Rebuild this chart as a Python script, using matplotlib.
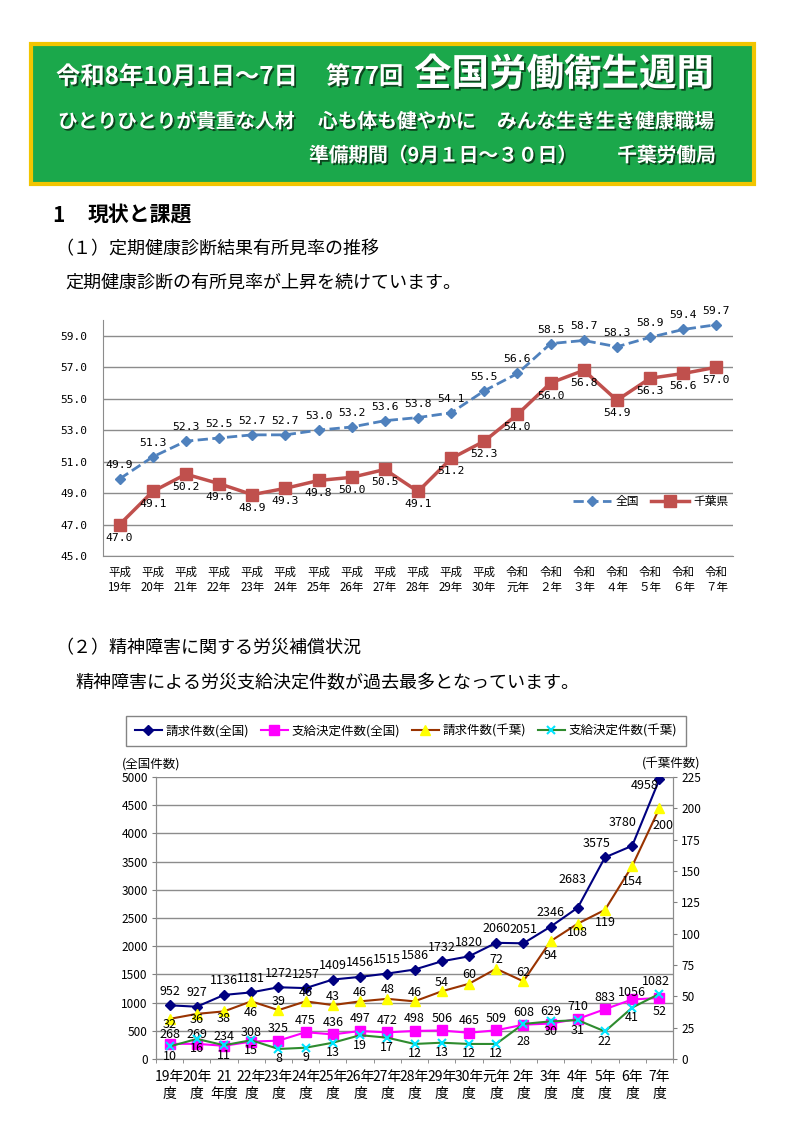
import numpy as np
import matplotlib
matplotlib.use('Agg')
import matplotlib.pyplot as plt
import matplotlib.patheffects as pe
from matplotlib.patches import Rectangle

plt.rcParams['font.family'] = ['Noto Sans CJK JP', 'DejaVu Sans']

W, H = 793, 1122

# 定期健康診断 有所見率（％）
years1 = ['平成\n19年', '平成\n20年', '平成\n21年', '平成\n22年', '平成\n23年',
          '平成\n24年', '平成\n25年', '平成\n26年', '平成\n27年', '平成\n28年',
          '平成\n29年', '平成\n30年', '令和\n元年', '令和\n２年', '令和\n３年',
          '令和\n４年', '令和\n５年', '令和\n６年', '令和\n７年']
zenkoku_rate = [49.9, 51.3, 52.3, 52.5, 52.7, 52.7, 53.0, 53.2, 53.6, 53.8,
                54.1, 55.5, 56.6, 58.5, 58.7, 58.3, 58.9, 59.4, 59.7]
chiba_rate = [47.0, 49.1, 50.2, 49.6, 48.9, 49.3, 49.8, 50.0, 50.5, 49.1,
              51.2, 52.3, 54.0, 56.0, 56.8, 54.9, 56.3, 56.6, 57.0]

# 精神障害の労災補償状況（件数）
years2 = ['19年\n度', '20年\n度', '21\n年度', '22年\n度', '23年\n度', '24年\n度',
          '25年\n度', '26年\n度', '27年\n度', '28年\n度', '29年\n度', '30年\n度',
          '元年\n度', '2年\n度', '3年\n度', '4年\n度', '5年\n度', '6年\n度', '7年\n度']
seikyu_zenkoku = [952, 927, 1136, 1181, 1272, 1257, 1409, 1456, 1515, 1586,
                  1732, 1820, 2060, 2051, 2346, 2683, 3575, 3780, 4958]
shikyu_zenkoku = [268, 269, 234, 308, 325, 475, 436, 497, 472, 498,
                  506, 465, 509, 608, 629, 710, 883, 1056, 1082]
seikyu_chiba = [32, 36, 38, 46, 39, 46, 43, 46, 48, 46,
                54, 60, 72, 62, 94, 108, 119, 154, 200]
shikyu_chiba = [10, 16, 11, 15, 8, 9, 13, 19, 17, 12,
                13, 12, 12, 28, 30, 31, 22, 41, 52]


def px_box(left, top, right, bottom):
    """ピクセル座標 -> figure座標"""
    return [left / W, 1 - bottom / H, (right - left) / W, (bottom - top) / H]


def put_labels(ax, xs, ys, texts, offsets, **kw):
    for x, y, t, (dx, dy) in zip(xs, ys, texts, offsets):
        ax.annotate(t, (x, y), xytext=(dx, dy), textcoords='offset pixels',
                    ha='center', va='center', annotation_clip=False, **kw)


fig = plt.figure(figsize=(W / 100, H / 100), dpi=100)
bg = fig.add_axes([0, 0, 1, 1])
bg.set_xlim(0, W)
bg.set_ylim(H, 0)
bg.axis('off')

# ---- ヘッダー ----
bg.add_patch(Rectangle((31, 44), 723, 140, facecolor='#1ba84b',
                       edgecolor='#f2c500', linewidth=3))
shadow = [pe.withSimplePatchShadow(offset=(1.3, -1.3), shadow_rgbFace='#0a3316', alpha=0.85)]
hd = dict(color='white', weight='bold', va='center', path_effects=shadow)
bg.text(56, 77, '令和8年10月1日～7日', fontsize=17.5, ha='left', **hd)
bg.text(326, 77, '第77回', fontsize=17.5, ha='left', **hd)
bg.text(414, 74, '全国労働衛生週間', fontsize=27, ha='left', **hd)
bg.text(58, 122, 'ひとりひとりが貴重な人材', fontsize=14.2, ha='left', **hd)
bg.text(318, 122, '心も体も健やかに', fontsize=14.2, ha='left', **hd)
bg.text(497, 122, 'みんな生き生き健康職場', fontsize=14.2, ha='left', **hd)
bg.text(309, 156, '準備期間（9月１日～３０日）', fontsize=14.2, ha='left', **hd)
bg.text(716, 156, '千葉労働局', fontsize=14.2, ha='right', **hd)

# ---- 見出し ----
bg.text(52, 215, '1', fontsize=15, weight='bold', va='center')
bg.text(88, 215, '現状と課題', fontsize=15, weight='bold', va='center')
bg.text(55, 249, '（１）定期健康診断結果有所見率の推移', fontsize=13, va='center')
bg.text(65, 283, '定期健康診断の有所見率が上昇を続けています。', fontsize=13, va='center')
bg.text(55, 648, '（２）精神障害に関する労災補償状況', fontsize=13, va='center')
bg.text(75, 683, '精神障害による労災支給決定件数が過去最多となっています。', fontsize=13, va='center')

# ---- グラフ1 ----
ax1 = fig.add_axes(px_box(103, 320, 733, 556))
x1 = np.arange(len(years1))
ax1.plot(x1, zenkoku_rate, color='#4f81bd', ls='--', lw=2, marker='D', ms=5,
         label='全国', zorder=3)
ax1.plot(x1, chiba_rate, color='#c0504d', lw=2.5, marker='s', ms=8.5,
         label='千葉県', zorder=3)
ax1.set_xlim(-0.5, len(years1) - 0.5)
ax1.set_ylim(45, 60)
yt1 = np.arange(45, 60, 2)
ax1.set_yticks(yt1)
ax1.set_yticklabels([f'{v:.1f}' for v in yt1], family='DejaVu Sans Mono', fontsize=8)
ax1.set_xticks(x1)
ax1.set_xticklabels(years1, fontsize=8.3, linespacing=1.2)
ax1.tick_params(axis='both', length=0)
ax1.tick_params(axis='y', pad=11)
ax1.tick_params(axis='x', pad=7)
ax1.grid(axis='y', color='#8c8c8c', lw=1)
ax1.set_axisbelow(True)
for s in ['top', 'right']:
    ax1.spines[s].set_visible(False)
for s in ['left', 'bottom']:
    ax1.spines[s].set_color('#8c8c8c')

lbl1 = dict(family='DejaVu Sans Mono', fontsize=8.2)
put_labels(ax1, x1, zenkoku_rate, [f'{v:.1f}' for v in zenkoku_rate],
           [(0, 14)] * len(x1), **lbl1)
put_labels(ax1, x1, chiba_rate, [f'{v:.1f}' for v in chiba_rate],
           [(0, -13)] * len(x1), **lbl1)
ax1.legend(loc='center', bbox_to_anchor=(0.87, 0.23), ncol=2, frameon=False,
           fontsize=8.5, handlelength=3.2, columnspacing=1.0, handletextpad=0.4)

# ---- グラフ2 ----
ax2 = fig.add_axes(px_box(156, 777, 673, 1059))
ax2r = ax2.twinx()
x2 = np.arange(len(years2))
l1, = ax2.plot(x2, seikyu_zenkoku, color='#000080', lw=1.5, marker='D', ms=5,
               label='請求件数(全国)', zorder=3)
l2, = ax2.plot(x2, shikyu_zenkoku, color='#ff00ff', lw=1.5, marker='s', ms=6.5,
               label='支給決定件数(全国)', zorder=3)
l3, = ax2r.plot(x2, seikyu_chiba, color='#993300', lw=1.5, marker='^', ms=7,
                mfc='#ffff00', mec='#ffff00', label='請求件数(千葉)', zorder=3)
l4, = ax2r.plot(x2, shikyu_chiba, color='#2e8b2e', lw=1.5, marker='x', ms=6,
                mec='#00e5ff', mew=1.5, label='支給決定件数(千葉)', zorder=3)

ax2.set_xlim(-0.5, len(years2) - 0.5)
ax2.set_ylim(0, 5000)
ax2r.set_ylim(0, 225)
ax2.set_yticks(np.arange(0, 5001, 500))
ax2r.set_yticks(np.arange(0, 226, 25))
ax2.set_xticks(x2)
ax2.set_xticklabels(years2, fontsize=10, linespacing=1.3)
ax2.set_xticks(np.arange(-0.5, len(years2), 1), minor=True)
ax2.tick_params(axis='x', which='major', length=0, pad=8)
ax2.tick_params(axis='x', which='minor', length=3, color='#808080')
ax2.tick_params(axis='y', labelsize=8.5, length=3, color='#808080', pad=3)
ax2r.tick_params(axis='y', labelsize=8.5, length=3, color='#808080', pad=3)
ax2.grid(axis='y', color='#8c8c8c', lw=1)
ax2.set_axisbelow(True)
for a in (ax2, ax2r):
    a.spines['top'].set_visible(False)
    for s in ['left', 'right', 'bottom']:
        a.spines[s].set_color('#8c8c8c')

lbl2 = dict(fontsize=9)
off_sz = [(0, 14)] * len(x2)
off_sz[15] = (-5, 28)
off_sz[16] = (-8, 14)
off_sz[17] = (-10, 23)
off_sz[18] = (-15, -6)
put_labels(ax2, x2, seikyu_zenkoku, [str(v) for v in seikyu_zenkoku], off_sz, **lbl2)

off_shz = [(0, 12)] * len(x2)
for i in range(4):
    off_shz[i] = (0, 9)
off_shz[17] = (0, 7)
off_shz[18] = (-3, 16)
put_labels(ax2, x2, shikyu_zenkoku, [str(v) for v in shikyu_zenkoku], off_shz, **lbl2)

off_sc = [(0, 9)] * len(x2)
off_sc[0] = (0, -6)
off_sc[1] = (0, -6)
off_sc[2] = (0, -7)
off_sc[3] = (0, -11)
off_sc[14] = (0, -14)
off_sc[15] = (0, -9)
off_sc[16] = (0, -13)
off_sc[17] = (0, -16)
off_sc[18] = (4, -17)
put_labels(ax2r, x2, seikyu_chiba, [str(v) for v in seikyu_chiba], off_sc, **lbl2)

off_shc = [(0, -10)] * len(x2)
off_shc[13] = (0, -18)
off_shc[18] = (0, -18)
put_labels(ax2r, x2, shikyu_chiba, [str(v) for v in shikyu_chiba], off_shc, **lbl2)

bg.text(122, 764, '(全国件数)', fontsize=9, va='center', ha='left')
bg.text(700, 764, '(千葉件数)', fontsize=9, va='center', ha='right')

fig.legend(handles=[l1, l2, l3, l4], loc='center',
           bbox_to_anchor=(406 / W, 1 - 731 / H), ncol=4, fontsize=9,
           frameon=True, fancybox=False, edgecolor='#666666',
           handlelength=2.2, columnspacing=0.9, handletextpad=0.3, borderpad=0.7)

fig.savefig('out.png', dpi=100)
